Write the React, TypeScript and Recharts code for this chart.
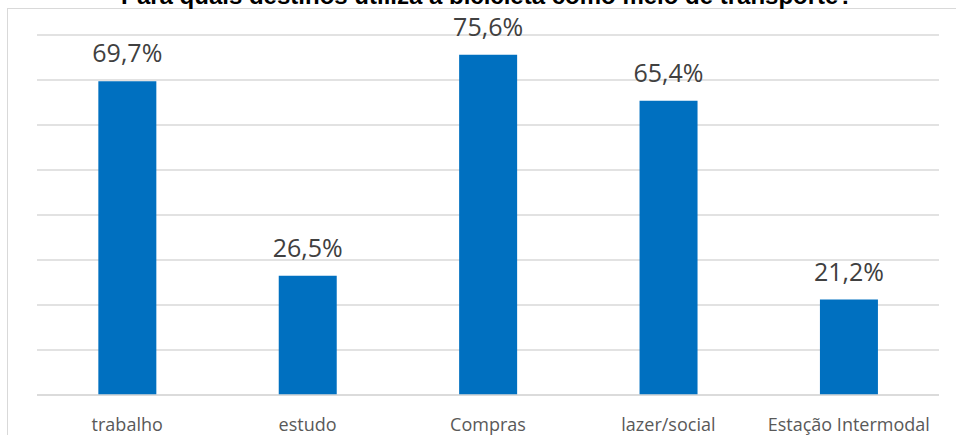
import { BarChart, Bar, XAxis, YAxis, CartesianGrid, LabelList } from 'recharts';

const categories = ['trabalho', 'estudo', 'Compras', 'lazer/social', 'Estação Intermodal'];
const shares = [69.7, 26.5, 75.6, 65.4, 21.2];
const gridTicks = [0, 10, 20, 30, 40, 50, 60, 70, 80];

const data = categories.map((name, i) => ({ name, value: shares[i] }));

const fmt = (v: number) => v.toFixed(1).replace('.', ',') + '%';

export default function App() {
  return (
    <div style={{ position: 'absolute', left: 0, top: 0, width: 956, height: 435, overflow: 'hidden', background: '#fff' }}>
      {/* chart frame, only top and left edges are visible */}
      <div style={{ position: 'absolute', left: 7, top: 8, width: 1000, height: 500, border: '1px solid #d9d9d9', boxSizing: 'border-box' }} />
      <BarChart
        width={956}
        height={435}
        data={data}
        margin={{ top: 35, right: 17, left: 37, bottom: 0 }}
        barCategoryGap="34%"
        style={{ position: 'absolute', left: 0, top: 0 }}
      >
        <CartesianGrid vertical={false} stroke="#d9d9d9" strokeWidth={1.5} />
        <YAxis hide domain={[0, 80]} ticks={gridTicks} />
        <XAxis
          dataKey="name"
          height={40}
          axisLine={{ stroke: '#d9d9d9', strokeWidth: 1.5 }}
          tickLine={false}
          tickMargin={17}
          interval={0}
          tick={{ fontSize: 18, fill: '#595959', fontFamily: '"Open Sans", sans-serif' }}
        />
        <Bar dataKey="value" fill="#0070c0" isAnimationActive={false}>
          <LabelList
            dataKey="value"
            position="top"
            offset={19}
            formatter={(v: any) => fmt(Number(v))}
            style={{ fontSize: 25, fill: '#404040', fontFamily: '"Open Sans", sans-serif' }}
          />
        </Bar>
      </BarChart>
      {/* title sits partly above the visible area, as in the source image */}
      <svg width={956} height={435} style={{ position: 'absolute', left: 0, top: 0, pointerEvents: 'none' }}>
        <text x={487} y={4} textAnchor="middle" fontFamily="Arial, 'Liberation Sans', sans-serif" fontWeight="bold" fontSize={24} fill="#000">
          Para quais destinos utiliza a bicicleta como meio de transporte?
        </text>
      </svg>
    </div>
  );
}
